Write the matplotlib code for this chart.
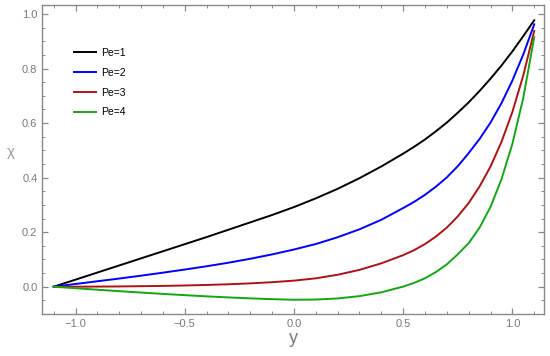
import matplotlib
matplotlib.use('Agg')
import matplotlib.pyplot as plt
from matplotlib.ticker import MultipleLocator

# values
y_vals = [-1.1, -1.0, -0.9, -0.8, -0.7, -0.6, -0.5, -0.4, -0.3, -0.2, -0.1, 0.0,
          0.1, 0.2, 0.3, 0.4, 0.5, 0.55, 0.6, 0.65, 0.7, 0.75, 0.8, 0.85, 0.9,
          0.95, 1.0, 1.05, 1.1]

chi_pe1 = [0.0, 0.026, 0.052, 0.078, 0.104, 0.130, 0.156, 0.182, 0.209, 0.236,
           0.263, 0.292, 0.324, 0.359, 0.398, 0.441, 0.488, 0.513, 0.540, 0.570,
           0.602, 0.638, 0.676, 0.718, 0.763, 0.811, 0.863, 0.919, 0.977]
chi_pe2 = [0.0, 0.010, 0.020, 0.030, 0.0405, 0.0515, 0.063, 0.075, 0.088, 0.1025,
           0.1185, 0.1365, 0.1565, 0.1815, 0.2105, 0.2455, 0.2885, 0.311, 0.337,
           0.367, 0.401, 0.442, 0.490, 0.542, 0.602, 0.673, 0.756, 0.852, 0.962]
chi_pe3 = [0.0, 0.0, 0.0005, 0.001, 0.002, 0.003, 0.0045, 0.0065, 0.009, 0.0123,
           0.0166, 0.0223, 0.0308, 0.0438, 0.0618, 0.0858, 0.1158, 0.134, 0.1565,
           0.184, 0.217, 0.258, 0.307, 0.368, 0.441, 0.531, 0.641, 0.775, 0.938]
chi_pe4 = [0.0, -0.0055, -0.011, -0.0163, -0.0214, -0.0263, -0.031, -0.0353,
           -0.0392, -0.0427, -0.0456, -0.0478, -0.047, -0.043, -0.0345, -0.0205,
           0.0005, 0.014, 0.031, 0.054, 0.082, 0.119, 0.160, 0.217, 0.293, 0.394,
           0.524, 0.693, 0.915]

labels = ['Pe=1', 'Pe=2', 'Pe=3', 'Pe=4']
colors = ['#000000', '#0000FF', '#B01212', '#12A812']

plt.rcParams['font.family'] = ['Liberation Sans', 'DejaVu Sans']

fig = plt.figure(figsize=(5.5, 3.56), dpi=100)
ax = fig.add_axes([0.077, 0.118, 0.9126, 0.868])

for vals, lab, c in zip([chi_pe1, chi_pe2, chi_pe3, chi_pe4], labels, colors):
    ax.plot(y_vals, vals, color=c, lw=1.4, label=lab, solid_joinstyle='round')

ax.set_xlim(-1.152, 1.146)
ax.set_ylim(-0.1, 1.033)

frame_col = '#8a8a8a'
for sp in ax.spines.values():
    sp.set_color(frame_col)
    sp.set_linewidth(1.0)

ax.xaxis.set_major_locator(MultipleLocator(0.5))
ax.xaxis.set_minor_locator(MultipleLocator(0.1))
ax.yaxis.set_major_locator(MultipleLocator(0.2))
ax.yaxis.set_minor_locator(MultipleLocator(0.05))
ax.xaxis.set_major_formatter(plt.FuncFormatter(lambda v, p: f'{v:.1f}'.replace('-', '\u2212')))
ax.yaxis.set_major_formatter(plt.FuncFormatter(lambda v, p: f'{v:.1f}'))

ax.tick_params(which='both', direction='in', top=True, right=True,
               color=frame_col, labelcolor='#7a7a7a', labelsize=8)
ax.tick_params(which='major', length=4.5, width=0.9)
ax.tick_params(which='minor', length=2.5, width=0.7)

ax.set_xlabel('y', color='#7a7a7a', fontsize=13, labelpad=1)
ax.set_ylabel('\u03c7', color='#9a9a9a', fontsize=11, labelpad=8, rotation=0)

ax.legend(loc='upper left', bbox_to_anchor=(0.045, 0.892), frameon=False,
          fontsize=7.5, handlelength=2.1, handletextpad=0.5, labelspacing=0.95)

fig.savefig('out.png', dpi=100)
